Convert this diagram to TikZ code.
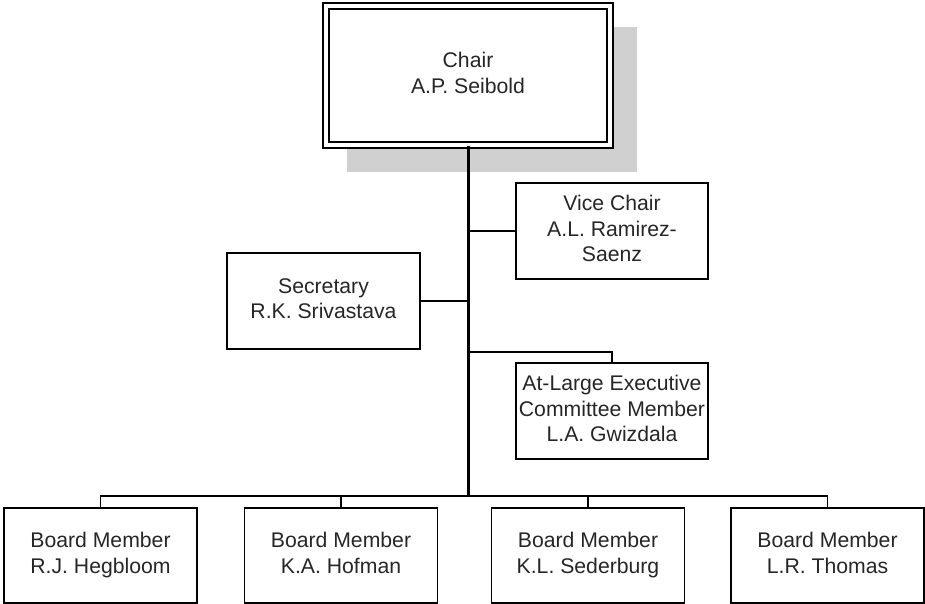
\documentclass[tikz,border=0pt]{standalone}
\usepackage{fontspec}
\setmainfont{Liberation Sans}
\definecolor{shadowgray}{RGB}{208,208,208}
\definecolor{textgray}{RGB}{38,38,38}
\newcommand{\topstrut}{\rule{0pt}{10.2pt}}
\newcommand{\botstrut}{\rule[-2.6pt]{0pt}{2.6pt}}
\tikzset{
  member/.style = {draw, line width=0.75pt, minimum width=96.5pt, minimum height=47.5pt,
                   inner sep=0pt, align=center, text=textgray,
                   font=\fontsize{10.6}{12.6}\selectfont,
                   execute at begin node=\topstrut, execute at end node=\botstrut},
  headbox/.style = {member, double, double distance=2.25pt, fill=white,
                    minimum width=142pt, minimum height=69.5pt},
  link/.style = {line width=0.75pt},
  trunk/.style = {line width=1.5pt}
}

\begin{document}
\begin{tikzpicture}[x = 0.5pt, y = -0.5pt]
\useasboundingbox (0,0) rectangle (925,604);
\fill[shadowgray] (347,27) rectangle (637,172);
\node[headbox] (chair) at (468,75.5) {Chair\\A.P. Seibold};
\node[member, minimum width=96pt, minimum height=48pt] (vice) at (612,231) {Vice Chair\\A.L. Ramirez-\\Saenz};
\node[member, minimum height=48pt] (secr) at (323.5,301) {Secretary\\R.K. Srivastava};
\node[member, minimum width=96pt, minimum height=48pt] (atlarge) at (612,411) {At-Large Executive\\Committee Member\\L.A. Gwizdala};
\node[member] (bm1) at (100.5,555.5) {Board Member\\R.J. Hegbloom};
\node[member] (bm2) at (341,555.5) {Board Member\\K.A. Hofman};
\node[member] (bm3) at (588,555.5) {Board Member\\K.L. Sederburg};
\node[member] (bm4) at (827.5,555.5) {Board Member\\L.R. Thomas};
\coordinate (alj) at (468,352);
\coordinate (bus) at (468,496);
\draw[link] (vice.west) -- (vice.west -| chair.south);
\draw[link] (secr.east) -- (secr.east -| chair.south);
\draw[link] (alj) -| (atlarge.north);
\foreach \bm in {bm1,bm2,bm3,bm4}
  \draw[link] (bus) -| (\bm.north);
\draw[trunk] (chair.south) -- (bus);
\end{tikzpicture}
\end{document}
